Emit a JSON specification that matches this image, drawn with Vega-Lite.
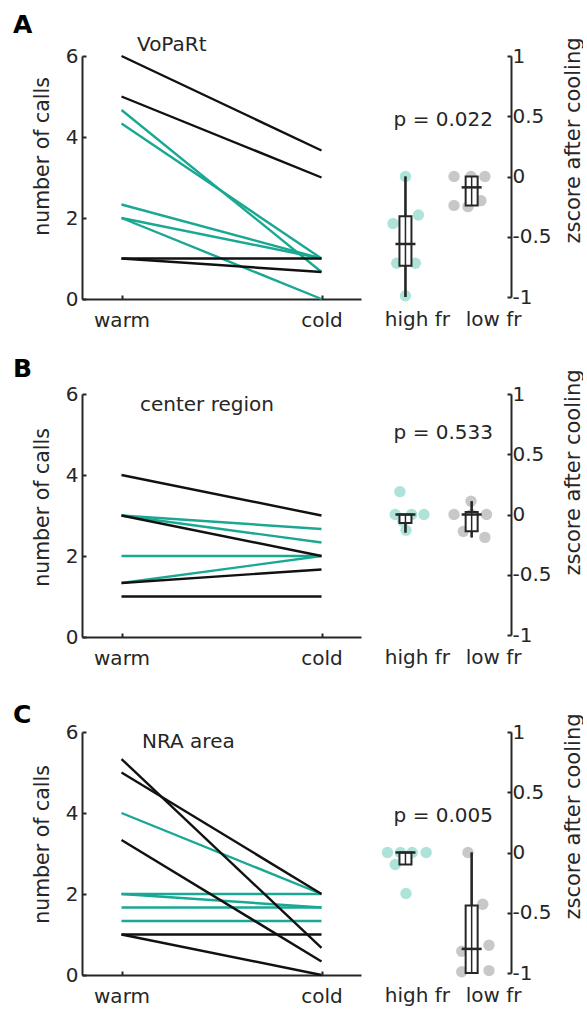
{
  "$schema": "https://vega.github.io/schema/vega-lite/v6.json",
  "background": "white",
  "padding": {"left": 13, "top": 12, "right": 0, "bottom": 0},
  "config": {
    "font": "DejaVu Sans",
    "view": {"stroke": null},
    "axis": {
      "grid": false,
      "domainColor": "#262626", "domainWidth": 2,
      "tickColor": "#262626", "tickWidth": 2, "tickSize": -4,
      "labelColor": "#262626", "titleColor": "#262626",
      "labelFont": "DejaVu Sans", "titleFont": "DejaVu Sans",
      "labelFontSize": 20, "titleFontSize": 20.5, "titleFontWeight": "normal"
    },
    "title": {"font": "DejaVu Sans", "color": "#262626"},
    "text": {"font": "DejaVu Sans", "fontSize": 20, "color": "#262626"}
  },
  "datasets": {
    "linesA": [
      {"neuron": "a1", "group": "low fr", "condition": "warm", "calls": 6}, {"neuron": "a1", "group": "low fr", "condition": "cold", "calls": 3.667},
      {"neuron": "a2", "group": "low fr", "condition": "warm", "calls": 5}, {"neuron": "a2", "group": "low fr", "condition": "cold", "calls": 3},
      {"neuron": "a3", "group": "low fr", "condition": "warm", "calls": 1}, {"neuron": "a3", "group": "low fr", "condition": "cold", "calls": 1},
      {"neuron": "a4", "group": "low fr", "condition": "warm", "calls": 1}, {"neuron": "a4", "group": "low fr", "condition": "cold", "calls": 0.667},
      {"neuron": "a5", "group": "high fr", "condition": "warm", "calls": 4.667}, {"neuron": "a5", "group": "high fr", "condition": "cold", "calls": 0.667},
      {"neuron": "a6", "group": "high fr", "condition": "warm", "calls": 4.333}, {"neuron": "a6", "group": "high fr", "condition": "cold", "calls": 1},
      {"neuron": "a7", "group": "high fr", "condition": "warm", "calls": 2.333}, {"neuron": "a7", "group": "high fr", "condition": "cold", "calls": 1},
      {"neuron": "a8", "group": "high fr", "condition": "warm", "calls": 2}, {"neuron": "a8", "group": "high fr", "condition": "cold", "calls": 1},
      {"neuron": "a9", "group": "high fr", "condition": "warm", "calls": 2}, {"neuron": "a9", "group": "high fr", "condition": "cold", "calls": 0}
    ],
    "linesB": [
      {"neuron": "b1", "group": "low fr", "condition": "warm", "calls": 4}, {"neuron": "b1", "group": "low fr", "condition": "cold", "calls": 3},
      {"neuron": "b2", "group": "low fr", "condition": "warm", "calls": 3}, {"neuron": "b2", "group": "low fr", "condition": "cold", "calls": 2},
      {"neuron": "b3", "group": "low fr", "condition": "warm", "calls": 1.333}, {"neuron": "b3", "group": "low fr", "condition": "cold", "calls": 1.667},
      {"neuron": "b4", "group": "low fr", "condition": "warm", "calls": 1}, {"neuron": "b4", "group": "low fr", "condition": "cold", "calls": 1},
      {"neuron": "b5", "group": "high fr", "condition": "warm", "calls": 3}, {"neuron": "b5", "group": "high fr", "condition": "cold", "calls": 2.667},
      {"neuron": "b6", "group": "high fr", "condition": "warm", "calls": 3}, {"neuron": "b6", "group": "high fr", "condition": "cold", "calls": 2.333},
      {"neuron": "b7", "group": "high fr", "condition": "warm", "calls": 2}, {"neuron": "b7", "group": "high fr", "condition": "cold", "calls": 2},
      {"neuron": "b8", "group": "high fr", "condition": "warm", "calls": 1.333}, {"neuron": "b8", "group": "high fr", "condition": "cold", "calls": 2}
    ],
    "linesC": [
      {"neuron": "c1", "group": "low fr", "condition": "warm", "calls": 5.333}, {"neuron": "c1", "group": "low fr", "condition": "cold", "calls": 0.667},
      {"neuron": "c2", "group": "low fr", "condition": "warm", "calls": 5}, {"neuron": "c2", "group": "low fr", "condition": "cold", "calls": 2},
      {"neuron": "c3", "group": "low fr", "condition": "warm", "calls": 3.333}, {"neuron": "c3", "group": "low fr", "condition": "cold", "calls": 0.333},
      {"neuron": "c4", "group": "low fr", "condition": "warm", "calls": 1}, {"neuron": "c4", "group": "low fr", "condition": "cold", "calls": 1},
      {"neuron": "c5", "group": "low fr", "condition": "warm", "calls": 1}, {"neuron": "c5", "group": "low fr", "condition": "cold", "calls": 0},
      {"neuron": "c6", "group": "high fr", "condition": "warm", "calls": 4}, {"neuron": "c6", "group": "high fr", "condition": "cold", "calls": 2},
      {"neuron": "c7", "group": "high fr", "condition": "warm", "calls": 2}, {"neuron": "c7", "group": "high fr", "condition": "cold", "calls": 2},
      {"neuron": "c8", "group": "high fr", "condition": "warm", "calls": 2}, {"neuron": "c8", "group": "high fr", "condition": "cold", "calls": 1.667},
      {"neuron": "c9", "group": "high fr", "condition": "warm", "calls": 1.667}, {"neuron": "c9", "group": "high fr", "condition": "cold", "calls": 1.667},
      {"neuron": "c10", "group": "high fr", "condition": "warm", "calls": 1.333}, {"neuron": "c10", "group": "high fr", "condition": "cold", "calls": 1.333}
    ],
    "dotsA": [
      {"group": "high fr", "pos": 1.0, "z": 0}, {"group": "high fr", "pos": 1.196, "z": -0.32}, {"group": "high fr", "pos": 0.812, "z": -0.39},
      {"group": "high fr", "pos": 0.868, "z": -0.72}, {"group": "high fr", "pos": 1.149, "z": -0.72}, {"group": "high fr", "pos": 1.0, "z": -0.99},
      {"group": "low fr", "pos": 1.734, "z": 0}, {"group": "low fr", "pos": 1.99, "z": 0}, {"group": "low fr", "pos": 2.2, "z": 0},
      {"group": "low fr", "pos": 1.734, "z": -0.24}, {"group": "low fr", "pos": 1.944, "z": -0.25}, {"group": "low fr", "pos": 2.14, "z": -0.2}
    ],
    "dotsB": [
      {"group": "high fr", "pos": 0.916, "z": 0.19}, {"group": "high fr", "pos": 0.846, "z": 0}, {"group": "high fr", "pos": 1.093, "z": 0},
      {"group": "high fr", "pos": 1.28, "z": 0}, {"group": "high fr", "pos": 0.962, "z": -0.055}, {"group": "high fr", "pos": 1.008, "z": -0.13},
      {"group": "low fr", "pos": 1.734, "z": 0}, {"group": "low fr", "pos": 1.99, "z": 0.11}, {"group": "low fr", "pos": 2.224, "z": 0},
      {"group": "low fr", "pos": 1.874, "z": -0.14}, {"group": "low fr", "pos": 2.2, "z": -0.19}, {"group": "low fr", "pos": 2.0, "z": 0}
    ],
    "dotsC": [
      {"group": "high fr", "pos": 0.728, "z": 0}, {"group": "high fr", "pos": 0.924, "z": 0}, {"group": "high fr", "pos": 1.102, "z": 0},
      {"group": "high fr", "pos": 1.313, "z": 0}, {"group": "high fr", "pos": 0.846, "z": -0.1}, {"group": "high fr", "pos": 1.008, "z": -0.34},
      {"group": "low fr", "pos": 1.944, "z": 0}, {"group": "low fr", "pos": 2.168, "z": -0.43}, {"group": "low fr", "pos": 2.262, "z": -0.77},
      {"group": "low fr", "pos": 1.85, "z": -0.82}, {"group": "low fr", "pos": 1.85, "z": -0.99}, {"group": "low fr", "pos": 2.262, "z": -0.98}
    ],
    "statsA": [
      {"group": "high fr", "pos": 1, "lo": -1, "q1": -0.74, "med": -0.56, "q3": -0.33, "hi": 0},
      {"group": "low fr", "pos": 2, "lo": -0.24, "q1": -0.24, "med": -0.09, "q3": 0, "hi": 0}
    ],
    "statsB": [
      {"group": "high fr", "pos": 1, "lo": -0.15, "q1": -0.07, "med": 0, "q3": 0, "hi": 0},
      {"group": "low fr", "pos": 2, "lo": -0.19, "q1": -0.14, "med": 0, "q3": 0.02, "hi": 0.11}
    ],
    "statsC": [
      {"group": "high fr", "pos": 1, "lo": -0.1, "q1": -0.1, "med": 0, "q3": 0, "hi": 0},
      {"group": "low fr", "pos": 2, "lo": -1, "q1": -1, "med": -0.8, "q3": -0.44, "hi": 0}
    ]
  },
  "columns": 2,
  "bounds": "flush",
  "spacing": {"row": 95, "column": 10},
  "concat": [
    {
      "width": 279, "height": 243,
      "title": {"text": "VoPaRt", "anchor": "start", "frame": "group", "dx": 55, "offset": -25, "fontSize": 20, "fontWeight": "normal", "baseline": "alphabetic"},
      "data": {"name": "linesA"},
      "encoding": {
        "x": {"field": "condition", "type": "ordinal", "sort": ["warm", "cold"], "scale": {"type": "point", "padding": 0.1975}, "axis": {"title": null, "labelAngle": 0, "labelPadding": 15}},
        "y": {"field": "calls", "type": "quantitative", "scale": {"domain": [0, 6], "nice": false}, "axis": {"title": "number of calls", "values": [0, 2, 4, 6], "format": "d", "titleX": -34, "titleY": 100, "labelPadding": 8, "titleBaseline": "alphabetic", "titleAngle": 270, "titleAlign": "center"}},
        "detail": {"field": "neuron"}
      },
      "layer": [
        {"transform": [{"filter": "datum.group === 'high fr'"}], "mark": {"type": "line", "color": "#1AA893", "strokeWidth": 2.4}},
        {"transform": [{"filter": "datum.group === 'low fr'"}], "mark": {"type": "line", "color": "#111111", "strokeWidth": 2.4}}
      ]
    },
    {
      "width": 140, "height": 241,
      "title": {"text": "A", "anchor": "start", "frame": "group", "dx": -358, "offset": -21, "fontSize": 25, "fontWeight": "bold", "color": "#000000", "baseline": "alphabetic"},
      "layer": [
        {"data": {"name": "dotsA"}, "mark": {"type": "point", "filled": true, "size": 130, "opacity": 1},
         "encoding": {
           "x": {"field": "pos", "type": "quantitative", "scale": {"domain": [0.555, 2.519], "nice": false, "zero": false}, "axis": {"title": null, "values": [1.173, 2.323], "labelExpr": "datum.value < 2 ? 'high fr' : 'low fr'", "domain": false, "ticks": false, "labelPadding": 12}},
           "y": {"field": "z", "type": "quantitative", "scale": {"domain": [-1, 1], "nice": false}, "axis": {"orient": "right", "title": "zscore after cooling", "values": [-1, -0.5, 0, 0.5, 1], "labelExpr": "'' + datum.value", "titleAngle": 270, "titleBaseline": "alphabetic", "titleAlign": "center", "titleX": 68, "titleY": 84, "titleFontSize": 21, "labelPadding": 5}},
           "color": {"condition": {"test": "datum.group === 'high fr'", "value": "#AEE3D9"}, "value": "#C8C8C8"}}},
        {"data": {"name": "statsA"}, "mark": {"type": "rule", "color": "#262626", "strokeWidth": 2.5},
         "encoding": {
           "x": {"field": "pos", "type": "quantitative", "scale": {"domain": [0.555, 2.519], "nice": false, "zero": false}, "axis": {"title": null, "values": [1.173, 2.323], "labelExpr": "datum.value < 2 ? 'high fr' : 'low fr'", "domain": false, "ticks": false, "labelPadding": 12}},
           "y": {"field": "lo", "type": "quantitative", "scale": {"domain": [-1, 1], "nice": false}, "axis": {"orient": "right", "title": "zscore after cooling", "values": [-1, -0.5, 0, 0.5, 1], "labelExpr": "'' + datum.value", "titleAngle": 270, "titleBaseline": "alphabetic", "titleAlign": "center", "titleX": 68, "titleY": 84, "titleFontSize": 21, "labelPadding": 5}},
           "y2": {"field": "hi"}}},
        {"data": {"name": "statsA"}, "mark": {"type": "bar", "size": 12, "fill": "white", "stroke": "#262626", "strokeWidth": 2},
         "encoding": {
           "x": {"field": "pos", "type": "quantitative", "scale": {"domain": [0.555, 2.519], "nice": false, "zero": false}, "axis": {"title": null, "values": [1.173, 2.323], "labelExpr": "datum.value < 2 ? 'high fr' : 'low fr'", "domain": false, "ticks": false, "labelPadding": 12}},
           "y": {"field": "q1", "type": "quantitative", "scale": {"domain": [-1, 1], "nice": false}, "axis": {"orient": "right", "title": "zscore after cooling", "values": [-1, -0.5, 0, 0.5, 1], "labelExpr": "'' + datum.value", "titleAngle": 270, "titleBaseline": "alphabetic", "titleAlign": "center", "titleX": 68, "titleY": 84, "titleFontSize": 21, "labelPadding": 5}},
           "y2": {"field": "q3"}}},
        {"data": {"name": "statsA"}, "mark": {"type": "rule", "color": "#262626", "strokeWidth": 1.5},
         "encoding": {
           "x": {"field": "pos", "type": "quantitative", "scale": {"domain": [0.555, 2.519], "nice": false, "zero": false}, "axis": {"title": null, "values": [1.173, 2.323], "labelExpr": "datum.value < 2 ? 'high fr' : 'low fr'", "domain": false, "ticks": false, "labelPadding": 12}},
           "y": {"field": "lo", "type": "quantitative", "scale": {"domain": [-1, 1], "nice": false}, "axis": {"orient": "right", "title": "zscore after cooling", "values": [-1, -0.5, 0, 0.5, 1], "labelExpr": "'' + datum.value", "titleAngle": 270, "titleBaseline": "alphabetic", "titleAlign": "center", "titleX": 68, "titleY": 84, "titleFontSize": 21, "labelPadding": 5}},
           "y2": {"field": "hi"}}},
        {"data": {"name": "statsA"}, "mark": {"type": "tick", "orient": "horizontal", "size": 20, "thickness": 2.5, "color": "#262626", "opacity": 1},
         "encoding": {
           "x": {"field": "pos", "type": "quantitative", "scale": {"domain": [0.555, 2.519], "nice": false, "zero": false}, "axis": {"title": null, "values": [1.173, 2.323], "labelExpr": "datum.value < 2 ? 'high fr' : 'low fr'", "domain": false, "ticks": false, "labelPadding": 12}},
           "y": {"field": "med", "type": "quantitative", "scale": {"domain": [-1, 1], "nice": false}, "axis": {"orient": "right", "title": "zscore after cooling", "values": [-1, -0.5, 0, 0.5, 1], "labelExpr": "'' + datum.value", "titleAngle": 270, "titleBaseline": "alphabetic", "titleAlign": "center", "titleX": 68, "titleY": 84, "titleFontSize": 21, "labelPadding": 5}}}},
        {"data": {"values": [{}]}, "mark": {"type": "text", "align": "right", "baseline": "alphabetic"},
         "encoding": {
           "x": {"datum": 2.323, "type": "quantitative", "scale": {"domain": [0.555, 2.519], "nice": false, "zero": false}, "axis": {"title": null, "values": [1.173, 2.323], "labelExpr": "datum.value < 2 ? 'high fr' : 'low fr'", "domain": false, "ticks": false, "labelPadding": 12}},
           "y": {"datum": 0.417, "type": "quantitative", "scale": {"domain": [-1, 1], "nice": false}, "axis": {"orient": "right", "title": "zscore after cooling", "values": [-1, -0.5, 0, 0.5, 1], "labelExpr": "'' + datum.value", "titleAngle": 270, "titleBaseline": "alphabetic", "titleAlign": "center", "titleX": 68, "titleY": 84, "titleFontSize": 21, "labelPadding": 5}},
           "text": {"value": "p = 0.022"}}}
      ]
    },
    {
      "width": 279, "height": 243,
      "title": {"text": "center region", "anchor": "start", "frame": "group", "dx": 58, "offset": -47, "fontSize": 20, "fontWeight": "normal", "baseline": "alphabetic"},
      "data": {"name": "linesB"},
      "encoding": {
        "x": {"field": "condition", "type": "ordinal", "sort": ["warm", "cold"], "scale": {"type": "point", "padding": 0.1975}, "axis": {"title": null, "labelAngle": 0, "labelPadding": 15}},
        "y": {"field": "calls", "type": "quantitative", "scale": {"domain": [0, 6], "nice": false}, "axis": {"title": "number of calls", "values": [0, 2, 4, 6], "format": "d", "titleX": -34, "titleY": 113, "labelPadding": 8, "titleBaseline": "alphabetic", "titleAngle": 270, "titleAlign": "center"}},
        "detail": {"field": "neuron"}
      },
      "layer": [
        {"transform": [{"filter": "datum.group === 'high fr'"}], "mark": {"type": "line", "color": "#1AA893", "strokeWidth": 2.4}},
        {"transform": [{"filter": "datum.group === 'low fr'"}], "mark": {"type": "line", "color": "#111111", "strokeWidth": 2.4}}
      ]
    },
    {
      "width": 140, "height": 241,
      "title": {"text": "B", "anchor": "start", "frame": "group", "dx": -358, "offset": -33, "fontSize": 25, "fontWeight": "bold", "color": "#000000", "baseline": "alphabetic"},
      "layer": [
        {"data": {"name": "dotsB"}, "mark": {"type": "point", "filled": true, "size": 130, "opacity": 1},
         "encoding": {
           "x": {"field": "pos", "type": "quantitative", "scale": {"domain": [0.555, 2.519], "nice": false, "zero": false}, "axis": {"title": null, "values": [1.173, 2.323], "labelExpr": "datum.value < 2 ? 'high fr' : 'low fr'", "domain": false, "ticks": false, "labelPadding": 12}},
           "y": {"field": "z", "type": "quantitative", "scale": {"domain": [-1, 1], "nice": false}, "axis": {"orient": "right", "title": "zscore after cooling", "values": [-1, -0.5, 0, 0.5, 1], "labelExpr": "'' + datum.value", "titleAngle": 270, "titleBaseline": "alphabetic", "titleAlign": "center", "titleX": 68, "titleY": 78, "titleFontSize": 21, "labelPadding": 5}},
           "color": {"condition": {"test": "datum.group === 'high fr'", "value": "#AEE3D9"}, "value": "#C8C8C8"}}},
        {"data": {"name": "statsB"}, "mark": {"type": "rule", "color": "#262626", "strokeWidth": 2.5},
         "encoding": {
           "x": {"field": "pos", "type": "quantitative", "scale": {"domain": [0.555, 2.519], "nice": false, "zero": false}, "axis": {"title": null, "values": [1.173, 2.323], "labelExpr": "datum.value < 2 ? 'high fr' : 'low fr'", "domain": false, "ticks": false, "labelPadding": 12}},
           "y": {"field": "lo", "type": "quantitative", "scale": {"domain": [-1, 1], "nice": false}, "axis": {"orient": "right", "title": "zscore after cooling", "values": [-1, -0.5, 0, 0.5, 1], "labelExpr": "'' + datum.value", "titleAngle": 270, "titleBaseline": "alphabetic", "titleAlign": "center", "titleX": 68, "titleY": 78, "titleFontSize": 21, "labelPadding": 5}},
           "y2": {"field": "hi"}}},
        {"data": {"name": "statsB"}, "mark": {"type": "bar", "size": 12, "fill": "white", "stroke": "#262626", "strokeWidth": 2},
         "encoding": {
           "x": {"field": "pos", "type": "quantitative", "scale": {"domain": [0.555, 2.519], "nice": false, "zero": false}, "axis": {"title": null, "values": [1.173, 2.323], "labelExpr": "datum.value < 2 ? 'high fr' : 'low fr'", "domain": false, "ticks": false, "labelPadding": 12}},
           "y": {"field": "q1", "type": "quantitative", "scale": {"domain": [-1, 1], "nice": false}, "axis": {"orient": "right", "title": "zscore after cooling", "values": [-1, -0.5, 0, 0.5, 1], "labelExpr": "'' + datum.value", "titleAngle": 270, "titleBaseline": "alphabetic", "titleAlign": "center", "titleX": 68, "titleY": 78, "titleFontSize": 21, "labelPadding": 5}},
           "y2": {"field": "q3"}}},
        {"data": {"name": "statsB"}, "mark": {"type": "rule", "color": "#262626", "strokeWidth": 1.5},
         "encoding": {
           "x": {"field": "pos", "type": "quantitative", "scale": {"domain": [0.555, 2.519], "nice": false, "zero": false}, "axis": {"title": null, "values": [1.173, 2.323], "labelExpr": "datum.value < 2 ? 'high fr' : 'low fr'", "domain": false, "ticks": false, "labelPadding": 12}},
           "y": {"field": "lo", "type": "quantitative", "scale": {"domain": [-1, 1], "nice": false}, "axis": {"orient": "right", "title": "zscore after cooling", "values": [-1, -0.5, 0, 0.5, 1], "labelExpr": "'' + datum.value", "titleAngle": 270, "titleBaseline": "alphabetic", "titleAlign": "center", "titleX": 68, "titleY": 78, "titleFontSize": 21, "labelPadding": 5}},
           "y2": {"field": "hi"}}},
        {"data": {"name": "statsB"}, "mark": {"type": "tick", "orient": "horizontal", "size": 20, "thickness": 2.5, "color": "#262626", "opacity": 1},
         "encoding": {
           "x": {"field": "pos", "type": "quantitative", "scale": {"domain": [0.555, 2.519], "nice": false, "zero": false}, "axis": {"title": null, "values": [1.173, 2.323], "labelExpr": "datum.value < 2 ? 'high fr' : 'low fr'", "domain": false, "ticks": false, "labelPadding": 12}},
           "y": {"field": "med", "type": "quantitative", "scale": {"domain": [-1, 1], "nice": false}, "axis": {"orient": "right", "title": "zscore after cooling", "values": [-1, -0.5, 0, 0.5, 1], "labelExpr": "'' + datum.value", "titleAngle": 270, "titleBaseline": "alphabetic", "titleAlign": "center", "titleX": 68, "titleY": 78, "titleFontSize": 21, "labelPadding": 5}}}},
        {"data": {"values": [{}]}, "mark": {"type": "text", "align": "right", "baseline": "alphabetic"},
         "encoding": {
           "x": {"datum": 2.323, "type": "quantitative", "scale": {"domain": [0.555, 2.519], "nice": false, "zero": false}, "axis": {"title": null, "values": [1.173, 2.323], "labelExpr": "datum.value < 2 ? 'high fr' : 'low fr'", "domain": false, "ticks": false, "labelPadding": 12}},
           "y": {"datum": 0.627, "type": "quantitative", "scale": {"domain": [-1, 1], "nice": false}, "axis": {"orient": "right", "title": "zscore after cooling", "values": [-1, -0.5, 0, 0.5, 1], "labelExpr": "'' + datum.value", "titleAngle": 270, "titleBaseline": "alphabetic", "titleAlign": "center", "titleX": 68, "titleY": 78, "titleFontSize": 21, "labelPadding": 5}},
           "text": {"value": "p = 0.533"}}}
      ]
    },
    {
      "width": 279, "height": 243,
      "title": {"text": "NRA area", "anchor": "start", "frame": "group", "dx": 60, "offset": -46, "fontSize": 20, "fontWeight": "normal", "baseline": "alphabetic"},
      "data": {"name": "linesC"},
      "encoding": {
        "x": {"field": "condition", "type": "ordinal", "sort": ["warm", "cold"], "scale": {"type": "point", "padding": 0.1975}, "axis": {"title": null, "labelAngle": 0, "labelPadding": 15}},
        "y": {"field": "calls", "type": "quantitative", "scale": {"domain": [0, 6], "nice": false}, "axis": {"title": "number of calls", "values": [0, 2, 4, 6], "format": "d", "titleX": -34, "titleY": 112, "labelPadding": 8, "titleBaseline": "alphabetic", "titleAngle": 270, "titleAlign": "center"}},
        "detail": {"field": "neuron"}
      },
      "layer": [
        {"transform": [{"filter": "datum.group === 'high fr'"}], "mark": {"type": "line", "color": "#1AA893", "strokeWidth": 2.4}},
        {"transform": [{"filter": "datum.group === 'low fr'"}], "mark": {"type": "line", "color": "#111111", "strokeWidth": 2.4}}
      ]
    },
    {
      "width": 140, "height": 241,
      "title": {"text": "C", "anchor": "start", "frame": "group", "dx": -358, "offset": -35, "fontSize": 25, "fontWeight": "bold", "color": "#000000", "baseline": "alphabetic"},
      "layer": [
        {"data": {"name": "dotsC"}, "mark": {"type": "point", "filled": true, "size": 130, "opacity": 1},
         "encoding": {
           "x": {"field": "pos", "type": "quantitative", "scale": {"domain": [0.555, 2.519], "nice": false, "zero": false}, "axis": {"title": null, "values": [1.173, 2.323], "labelExpr": "datum.value < 2 ? 'high fr' : 'low fr'", "domain": false, "ticks": false, "labelPadding": 12}},
           "y": {"field": "z", "type": "quantitative", "scale": {"domain": [-1, 1], "nice": false}, "axis": {"orient": "right", "title": "zscore after cooling", "values": [-1, -0.5, 0, 0.5, 1], "labelExpr": "'' + datum.value", "titleAngle": 270, "titleBaseline": "alphabetic", "titleAlign": "center", "titleX": 68, "titleY": 84, "titleFontSize": 21, "labelPadding": 5}},
           "color": {"condition": {"test": "datum.group === 'high fr'", "value": "#AEE3D9"}, "value": "#C8C8C8"}}},
        {"data": {"name": "statsC"}, "mark": {"type": "rule", "color": "#262626", "strokeWidth": 2.5},
         "encoding": {
           "x": {"field": "pos", "type": "quantitative", "scale": {"domain": [0.555, 2.519], "nice": false, "zero": false}, "axis": {"title": null, "values": [1.173, 2.323], "labelExpr": "datum.value < 2 ? 'high fr' : 'low fr'", "domain": false, "ticks": false, "labelPadding": 12}},
           "y": {"field": "lo", "type": "quantitative", "scale": {"domain": [-1, 1], "nice": false}, "axis": {"orient": "right", "title": "zscore after cooling", "values": [-1, -0.5, 0, 0.5, 1], "labelExpr": "'' + datum.value", "titleAngle": 270, "titleBaseline": "alphabetic", "titleAlign": "center", "titleX": 68, "titleY": 84, "titleFontSize": 21, "labelPadding": 5}},
           "y2": {"field": "hi"}}},
        {"data": {"name": "statsC"}, "mark": {"type": "bar", "size": 12, "fill": "white", "stroke": "#262626", "strokeWidth": 2},
         "encoding": {
           "x": {"field": "pos", "type": "quantitative", "scale": {"domain": [0.555, 2.519], "nice": false, "zero": false}, "axis": {"title": null, "values": [1.173, 2.323], "labelExpr": "datum.value < 2 ? 'high fr' : 'low fr'", "domain": false, "ticks": false, "labelPadding": 12}},
           "y": {"field": "q1", "type": "quantitative", "scale": {"domain": [-1, 1], "nice": false}, "axis": {"orient": "right", "title": "zscore after cooling", "values": [-1, -0.5, 0, 0.5, 1], "labelExpr": "'' + datum.value", "titleAngle": 270, "titleBaseline": "alphabetic", "titleAlign": "center", "titleX": 68, "titleY": 84, "titleFontSize": 21, "labelPadding": 5}},
           "y2": {"field": "q3"}}},
        {"data": {"name": "statsC"}, "mark": {"type": "rule", "color": "#262626", "strokeWidth": 1.5},
         "encoding": {
           "x": {"field": "pos", "type": "quantitative", "scale": {"domain": [0.555, 2.519], "nice": false, "zero": false}, "axis": {"title": null, "values": [1.173, 2.323], "labelExpr": "datum.value < 2 ? 'high fr' : 'low fr'", "domain": false, "ticks": false, "labelPadding": 12}},
           "y": {"field": "lo", "type": "quantitative", "scale": {"domain": [-1, 1], "nice": false}, "axis": {"orient": "right", "title": "zscore after cooling", "values": [-1, -0.5, 0, 0.5, 1], "labelExpr": "'' + datum.value", "titleAngle": 270, "titleBaseline": "alphabetic", "titleAlign": "center", "titleX": 68, "titleY": 84, "titleFontSize": 21, "labelPadding": 5}},
           "y2": {"field": "hi"}}},
        {"data": {"name": "statsC"}, "mark": {"type": "tick", "orient": "horizontal", "size": 20, "thickness": 2.5, "color": "#262626", "opacity": 1},
         "encoding": {
           "x": {"field": "pos", "type": "quantitative", "scale": {"domain": [0.555, 2.519], "nice": false, "zero": false}, "axis": {"title": null, "values": [1.173, 2.323], "labelExpr": "datum.value < 2 ? 'high fr' : 'low fr'", "domain": false, "ticks": false, "labelPadding": 12}},
           "y": {"field": "med", "type": "quantitative", "scale": {"domain": [-1, 1], "nice": false}, "axis": {"orient": "right", "title": "zscore after cooling", "values": [-1, -0.5, 0, 0.5, 1], "labelExpr": "'' + datum.value", "titleAngle": 270, "titleBaseline": "alphabetic", "titleAlign": "center", "titleX": 68, "titleY": 84, "titleFontSize": 21, "labelPadding": 5}}}},
        {"data": {"values": [{}]}, "mark": {"type": "text", "align": "right", "baseline": "alphabetic"},
         "encoding": {
           "x": {"datum": 2.323, "type": "quantitative", "scale": {"domain": [0.555, 2.519], "nice": false, "zero": false}, "axis": {"title": null, "values": [1.173, 2.323], "labelExpr": "datum.value < 2 ? 'high fr' : 'low fr'", "domain": false, "ticks": false, "labelPadding": 12}},
           "y": {"datum": 0.25, "type": "quantitative", "scale": {"domain": [-1, 1], "nice": false}, "axis": {"orient": "right", "title": "zscore after cooling", "values": [-1, -0.5, 0, 0.5, 1], "labelExpr": "'' + datum.value", "titleAngle": 270, "titleBaseline": "alphabetic", "titleAlign": "center", "titleX": 68, "titleY": 84, "titleFontSize": 21, "labelPadding": 5}},
           "text": {"value": "p = 0.005"}}}
      ]
    }
  ]
}
